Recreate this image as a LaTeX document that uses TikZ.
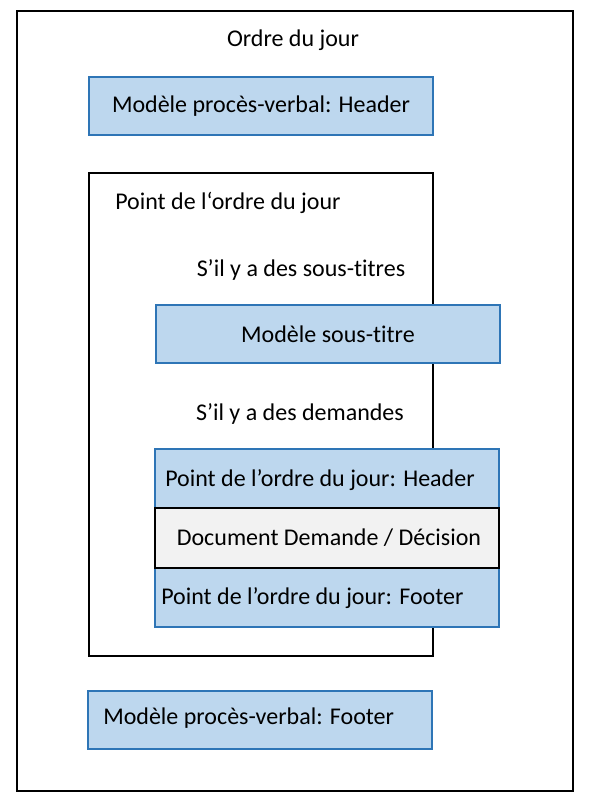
\documentclass[tikz,border=0pt]{standalone}
\usepackage{fontspec}
\setmainfont{Carlito}[Ligatures=NoCommon]
\usepackage{tikz}

\definecolor{boxfill}{RGB}{189,215,238}
\definecolor{boxline}{RGB}{46,117,182}
\definecolor{docfill}{RGB}{242,242,242}

\begin{document}
\begin{tikzpicture}[x=0.75pt,y=-0.75pt,
	bluebox/.style={draw=boxline,fill=boxfill,line width=1.4pt},
	docbox/.style={draw=black,fill=docfill,line width=1.4pt},
	frame/.style={draw=black,line width=1.2pt},
	every node/.style={inner sep=0pt,font=\fontsize{18}{21}\selectfont}]
	\useasboundingbox (0,0) rectangle (590,807);
	% outer frame
	\draw [frame] (17,11) rectangle (573,791);
	\node (odj) at (293,40) {Ordre du jour};
	\draw [bluebox] (89,77) rectangle (433,135);
	\node (mpvhead) at (261,106) {Modèle procès-verbal: Header};
	% point de l'ordre du jour
	\draw [frame,line width=1.4pt] (89,173) rectangle (433,656);
	\node [anchor=west] (pt) at (115,203) {Point de l‘ordre du jour};
	\node (sitit) at (301,270) {S’il y a des sous-titres};
	\draw [bluebox] (156,305) rectangle (500,363);
	\node (sstit) at (328,334) {Modèle sous-titre};
	\node (sidem) at (300,414) {S’il y a des demandes};
	\draw [bluebox] (155,449) rectangle (499,508);
	\node [anchor=west] (pthead) at (165,480) {Point de l’ordre du jour: Header};
	\draw [bluebox] (155,568) rectangle (499,627);
	\node [anchor=west] (ptfoot) at (161,598) {Point de l’ordre du jour: Footer};
	\draw [docbox] (155,508) rectangle (499,568);
	\node (doc) at (329,538) {Document Demande / Décision};
	% footer
	\draw [bluebox] (88,691) rectangle (432,749);
	\node [anchor=west] (mpvfoot) at (103,718) {Modèle procès-verbal: Footer};
\end{tikzpicture}
\end{document}
